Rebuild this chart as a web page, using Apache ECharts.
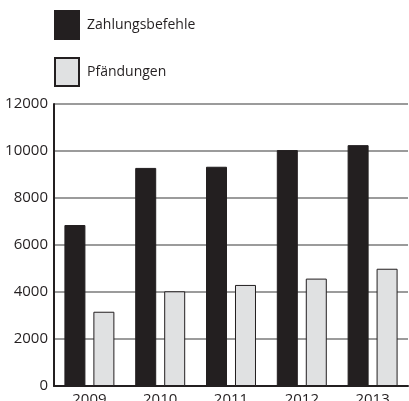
<!DOCTYPE html>
<html>
<head>
<meta charset="utf-8">
<script src="https://cdn.jsdelivr.net/npm/echarts@6/dist/echarts.min.js"></script>
<style>
html, body { margin: 0; padding: 0; background: #fff; }
#chart { width: 409px; height: 401px; }
</style>
</head>
<body>
<div id="chart"></div>
<script>
// data
var years = ['2009', '2010', '2011', '2012', '2013'];
var zahlungsbefehle = [6850, 9280, 9330, 10040, 10250];
var pfaendungen = [3160, 4030, 4300, 4570, 4990];

var font = '"Open Sans", "Noto Sans", sans-serif';

echarts.init(document.getElementById('chart')).setOption({
  animation: false,
  textStyle: { fontFamily: font },
  legend: {
    orient: 'vertical',
    left: 54,
    top: 10,
    padding: 0,
    itemWidth: 24,
    itemHeight: 28,
    itemGap: 17,
    icon: 'rect',
    textStyle: { fontSize: 14, color: '#231f20', fontFamily: font, padding: [0, 0, 0, 3] },
    data: ['Zahlungsbefehle', 'Pfändungen']
  },
  grid: { left: 54, right: 1, top: 104, bottom: 15, containLabel: false, outerBoundsMode: 'none' },
  xAxis: {
    type: 'category',
    data: years,
    boundaryGap: true,
    axisLine: { lineStyle: { color: '#231f20', width: 2 } },
    axisTick: { inside: true, length: 6, lineStyle: { color: '#231f20', width: 2 } },
    axisLabel: { fontSize: 15, color: '#231f20', margin: 6 }
  },
  yAxis: {
    type: 'value',
    min: 0,
    max: 12000,
    interval: 2000,
    axisLine: { show: true, lineStyle: { color: '#231f20', width: 2 } },
    axisTick: { show: false },
    axisLabel: { fontSize: 15, color: '#231f20', margin: 6, formatter: function (v) { return String(v); } },
    splitLine: { lineStyle: { color: '#9b9b9b', width: 2 } }
  },
  series: [
    {
      name: 'Zahlungsbefehle',
      type: 'bar',
      data: zahlungsbefehle,
      barWidth: 21,
      barGap: '38%',
      itemStyle: { color: '#231f20', borderColor: '#231f20', borderWidth: 1 }
    },
    {
      name: 'Pfändungen',
      type: 'bar',
      data: pfaendungen,
      barWidth: 21,
      barGap: '38%',
      itemStyle: { color: '#e0e1e2', borderColor: '#231f20', borderWidth: 1 }
    }
  ]
});
</script>
</body>
</html>
